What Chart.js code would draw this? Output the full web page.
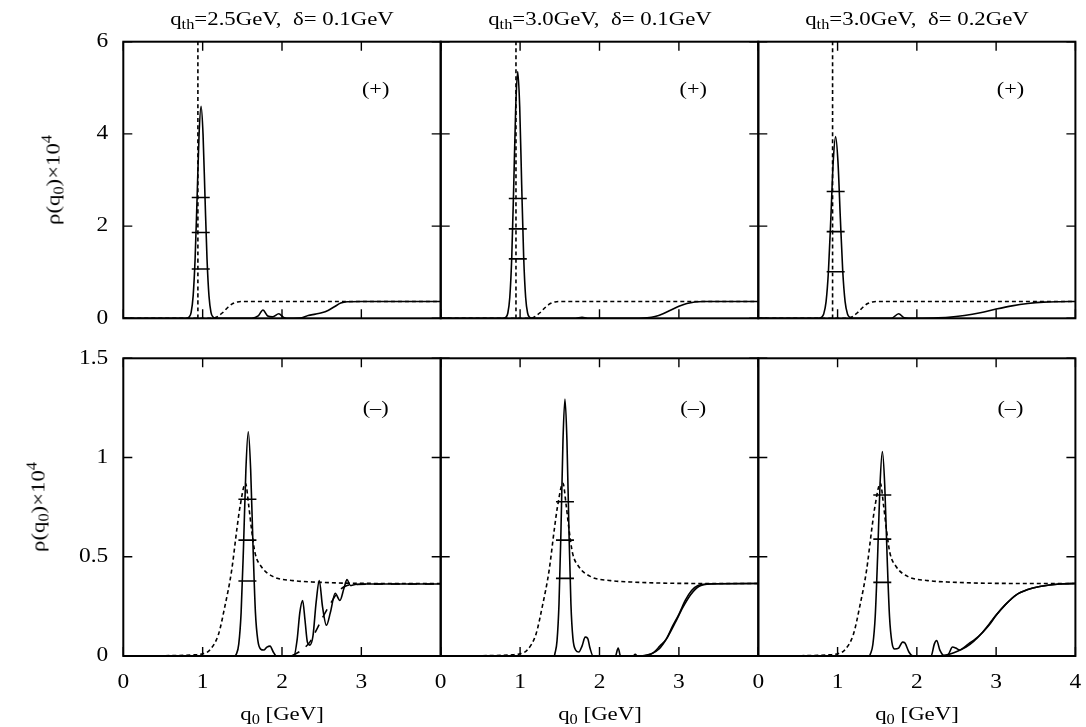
<!DOCTYPE html>
<html>
<head>
<meta charset="utf-8">
<script src="https://cdn.jsdelivr.net/npm/chart.js@4/dist/chart.umd.min.js"></script>
<style>
  body { margin:0; background:#fff; }
  #wrap { position:relative; width:1086px; height:727px; overflow:hidden; }
  #wrap canvas { position:absolute; left:0; top:0; }
  .lbl { position:absolute; font-family:"Liberation Serif","Times New Roman",serif; font-size:19px;
         color:#000; white-space:nowrap; line-height:1; transform-origin:center center; }
  .lbl sub { font-size:0.72em; vertical-align:-0.3em; line-height:0; }
  .lbl sup { font-size:0.72em; vertical-align:0.55em; line-height:0; }
</style>
</head>
<body>
<div id="wrap"></div>
<script>
// axes
var xTicks = [0, 1, 2, 3, 4];
var plusYTicks = [0, 2, 4, 6];
var minusYTicks = [0, 0.5, 1, 1.5];
var titles = ['q<sub>th</sub>=2.5GeV,&nbsp; &delta;= 0.1GeV', 'q<sub>th</sub>=3.0GeV,&nbsp; &delta;= 0.1GeV', 'q<sub>th</sub>=3.0GeV,&nbsp; &delta;= 0.2GeV'];

// (+) channel, dashed reference: pole position and continuum
var plusPoleQ = [0.94, 0.948, 0.937];
var plusDashed = [[0,0],[1.12,0],[1.18,0.03],[1.25,0.12],[1.32,0.24],[1.38,0.32],[1.44,0.355],[1.52,0.365],[4,0.365]];

// (+) channel, solid curves
var plusA = [[0,0],[0.79,0],[0.83,0.03],[0.855,0.13],[0.88,0.48],[0.905,1.29],[0.93,2.61],[0.955,3.99],[0.98,4.6],[1.005,3.99],[1.03,2.61],[1.055,1.29],[1.08,0.48],[1.105,0.13],[1.13,0.03],[1.17,0],
  [1.62,0],[1.7,0.05],[1.76,0.18],[1.82,0.05],[1.88,0.03],[1.96,0.1],[2.02,0.02],[2.1,0],[2.25,0.01],[2.33,0.06],[2.42,0.09],[2.5,0.12],[2.58,0.17],[2.66,0.25],[2.74,0.33],[2.82,0.36],[3,0.365],[4,0.365]];
var plusB = [[0,0],[0.78,0],[0.82,0.02],[0.845,0.11],[0.87,0.45],[0.895,1.33],[0.92,2.89],[0.945,4.59],[0.97,5.35],[0.995,4.59],[1.02,2.89],[1.045,1.33],[1.07,0.45],[1.095,0.11],[1.12,0.02],[1.16,0],
  [1.7,0],[1.78,0.02],[1.85,0],[2.5,0],[2.6,0.01],[2.7,0.04],[2.8,0.1],[2.9,0.18],[3.0,0.26],[3.1,0.32],[3.2,0.355],[3.3,0.365],[4,0.365]];
var plusC = [[0,0],[0.76,0],[0.795,0.02],[0.825,0.095],[0.855,0.36],[0.885,1.03],[0.915,2.17],[0.945,3.39],[0.975,3.94],[1.005,3.39],[1.035,2.17],[1.065,1.03],[1.095,0.36],[1.125,0.095],[1.155,0.02],[1.2,0],
  [1.68,0],[1.77,0.1],[1.84,0.01],[1.9,0],[2.2,0.005],[2.4,0.02],[2.6,0.06],[2.8,0.12],[3.0,0.2],[3.2,0.27],[3.4,0.32],[3.6,0.35],[3.8,0.36],[4,0.365]];

// (+) channel, peak markers
var plusMarkQ = [0.976, 0.971, 0.976];
var plusMarkA = [2.62, 1.86, 1.07];
var plusMarkB = [2.6, 1.94, 1.29];
var plusMarkC = [2.75, 1.88, 1.01];

// (-) channel, dashed reference
var minusDashed = [[0,0],[0.6,0.002],[0.9,0.006],[1.01,0.012],[1.09,0.03],[1.2,0.11],[1.28,0.25],[1.365,0.43],[1.43,0.635],[1.47,0.75],[1.54,0.87],[1.58,0.76],[1.617,0.635],[1.66,0.52],[1.74,0.45],[1.89,0.4],[2.14,0.38],[2.44,0.372],[3,0.366],[4,0.365]];

// (-) channel, solid curves
var minusD = [[0,0],[1.4,0],[1.425,0.01],[1.455,0.06],[1.485,0.22],[1.515,0.55],[1.545,0.94],[1.575,1.13],[1.605,0.94],[1.635,0.55],[1.665,0.22],[1.695,0.08],[1.73,0.035],[1.77,0.03],[1.81,0.045],[1.85,0.05],[1.89,0.02],[1.93,0],
  [2.15,0],[2.19,0.08],[2.225,0.22],[2.26,0.28],[2.29,0.18],[2.32,0.07],[2.35,0.055],[2.39,0.1],[2.43,0.27],[2.47,0.38],[2.51,0.25],[2.56,0.155],[2.61,0.22],[2.67,0.316],[2.73,0.28],[2.78,0.34],[2.82,0.385],[2.86,0.355],[2.92,0.36],[3.0,0.363],[4,0.363]];
var minusDsmooth = [[2.12,0],[2.25,0.03],[2.35,0.07],[2.42,0.12],[2.52,0.2],[2.62,0.27],[2.72,0.33],[2.82,0.355],[2.92,0.36],[3.1,0.362],[4,0.363]];
var minusE = [[0,0],[1.43,0],[1.44,0.015],[1.465,0.076],[1.49,0.263],[1.515,0.637],[1.54,1.085],[1.565,1.295],[1.59,1.085],[1.615,0.637],[1.64,0.263],[1.665,0.09],[1.7,0.03],[1.74,0.02],[1.78,0.05],[1.82,0.095],[1.85,0.09],[1.88,0.04],[1.92,0],
  [2.2,0],[2.235,0.04],[2.265,0],[2.42,0],[2.45,0.008],[2.48,0],[2.6,0.005],[2.68,0.017],[2.76,0.05],[2.84,0.085],[2.92,0.15],[3.0,0.21],[3.08,0.28],[3.16,0.33],[3.24,0.355],[3.35,0.363],[4,0.365]];
var minusEsmooth = [[2.55,0],[2.65,0.01],[2.75,0.035],[2.85,0.09],[2.95,0.165],[3.05,0.245],[3.15,0.31],[3.25,0.35],[3.4,0.363],[4,0.365]];
var minusF = [[0,0],[1.4,0],[1.415,0.011],[1.445,0.058],[1.475,0.2],[1.505,0.5],[1.535,0.86],[1.565,1.03],[1.595,0.86],[1.625,0.5],[1.655,0.2],[1.685,0.07],[1.72,0.035],[1.77,0.04],[1.82,0.07],[1.85,0.065],[1.9,0.02],[1.95,0],
  [2.18,0],[2.22,0.06],[2.25,0.078],[2.29,0.03],[2.35,0],[2.4,0.01],[2.45,0.045],[2.49,0.04],[2.54,0.03],[2.6,0.045],[2.66,0.064],[2.72,0.08],[2.83,0.12],[2.92,0.165],[3.0,0.206],[3.12,0.26],[3.25,0.307],[3.4,0.335],[3.55,0.35],[3.8,0.363],[4,0.365]];
var minusFsmooth = [[2.3,0],[2.42,0.01],[2.52,0.025],[2.62,0.045],[2.72,0.075],[2.82,0.115],[2.92,0.16],[3.0,0.205],[3.12,0.26],[3.25,0.307],[3.4,0.335],[3.55,0.35],[3.8,0.363],[4,0.365]];

// (-) channel, peak markers
var minusMarkQ = [1.564, 1.565, 1.564];
var minusMarkD = [0.79, 0.584, 0.378];
var minusMarkE = [0.777, 0.584, 0.391];
var minusMarkF = [0.811, 0.589, 0.371];

// panel frames (pixels)
var colL = [123.3, 440.7, 758.3], colR = [440.7, 758.3, 1076];
var rowT = [41.7, 358.3], rowB = [318.3, 656];

var FONT = '"Liberation Serif","Times New Roman",serif';

function pts(a){ return a.map(function(p){ return {x:p[0], y:p[1]}; }); }
function curve(a, dash){
  return { data: pts(a), showLine:true, borderColor:'#000', borderWidth:1.6, borderDash: dash||[],
           pointRadius:0, cubicInterpolationMode:'monotone', fill:false };
}
function marks(q, ys){
  return { data: ys.map(function(y){ return {x:q, y:y}; }), showLine:false, pointStyle:'line',
           pointRadius:9, pointBorderColor:'#000', pointBorderWidth:1.6, pointBackgroundColor:'#000' };
}

var framePlugin = {
  id:'frame',
  afterDatasetsDraw: function(chart, args, o){
    var ctx = chart.ctx, a = chart.chartArea, xs = chart.scales.x, ys = chart.scales.y;
    ctx.save();
    ctx.strokeStyle = '#000'; ctx.lineWidth = 1.4;
    ctx.beginPath();
    xs.ticks.forEach(function(t){
      var px = xs.getPixelForValue(t.value);
      ctx.moveTo(px, a.bottom); ctx.lineTo(px, a.bottom - 9);
      ctx.moveTo(px, a.top); ctx.lineTo(px, a.top + 9);
    });
    ys.ticks.forEach(function(t){
      var py = ys.getPixelForValue(t.value);
      ctx.moveTo(a.left, py); ctx.lineTo(a.left + 9, py);
      ctx.moveTo(a.right, py); ctx.lineTo(a.right - 9, py);
    });
    ctx.stroke();
    ctx.lineWidth = 2;
    ctx.strokeRect(a.left, a.top, a.right - a.left, a.bottom - a.top);
    // tick labels, stretched like the original lettering
    ctx.fillStyle = '#000';
    ctx.font = '20px ' + FONT;
    if (o.xLabels) {
      ctx.textAlign = 'center'; ctx.textBaseline = 'alphabetic';
      xs.ticks.forEach(function(t){
        if (!t.label) return;
        ctx.save(); ctx.translate(xs.getPixelForValue(t.value), a.bottom + 32); ctx.scale(1.17, 1);
        ctx.fillText(t.label, 0, 0); ctx.restore();
      });
    }
    if (o.yLabels) {
      ctx.textAlign = 'right'; ctx.textBaseline = 'middle';
      ys.ticks.forEach(function(t){
        ctx.save(); ctx.translate(a.left - 15, ys.getPixelForValue(t.value)); ctx.scale(1.17, 1);
        ctx.fillText(t.label, 0, 0); ctx.restore();
      });
    }
    // channel tag
    ctx.font = '19px ' + FONT; ctx.textAlign = 'center'; ctx.textBaseline = 'middle';
    ctx.save(); ctx.translate(xs.getPixelForValue(o.tagX), ys.getPixelForValue(o.tagY)); ctx.scale(1.17, 1);
    ctx.fillText(o.tag, 0, 0); ctx.restore();
    ctx.restore();
  }
};

var panels = [
  { row:0, col:0, sets:[curve(plusDashed,[4,3]), curve([[plusPoleQ[0],0],[plusPoleQ[0],6]],[4,3]), curve(plusA), marks(plusMarkQ[0], plusMarkA)] },
  { row:0, col:1, sets:[curve(plusDashed,[4,3]), curve([[plusPoleQ[1],0],[plusPoleQ[1],6]],[4,3]), curve(plusB), marks(plusMarkQ[1], plusMarkB)] },
  { row:0, col:2, sets:[curve(plusDashed,[4,3]), curve([[plusPoleQ[2],0],[plusPoleQ[2],6]],[4,3]), curve(plusC), marks(plusMarkQ[2], plusMarkC)] },
  { row:1, col:0, sets:[curve(minusDashed,[4,3]), curve(minusDsmooth,[9,8]), curve(minusD), marks(minusMarkQ[0], minusMarkD)] },
  { row:1, col:1, sets:[curve(minusDashed,[4,3]), curve(minusEsmooth), curve(minusE), marks(minusMarkQ[1], minusMarkE)] },
  { row:1, col:2, sets:[curve(minusDashed,[4,3]), curve(minusFsmooth), curve(minusF), marks(minusMarkQ[2], minusMarkF)] }
];

var wrap = document.getElementById('wrap');
panels.forEach(function(p){
  var cv = document.createElement('canvas');
  cv.width = 1086; cv.height = 727;
  wrap.appendChild(cv);
  var yT = p.row === 0 ? plusYTicks : minusYTicks;
  new Chart(cv, {
    type:'scatter',
    data:{ datasets:p.sets },
    plugins:[framePlugin],
    options:{
      responsive:false, animation:false, devicePixelRatio:1, events:[],
      layout:{ padding:{ left:colL[p.col], right:1086 - colR[p.col], top:rowT[p.row], bottom:727 - rowB[p.row] } },
      plugins:{
        legend:{display:false}, tooltip:{enabled:false},
        frame:{ xLabels:p.row === 1, yLabels:p.col === 0, tag:p.row === 0 ? '(+)' : '(\u2013)', tagX:3.18, tagY:p.row === 0 ? 4.95 : 1.244 }
      },
      scales:{
        x:{ type:'linear', min:0, max:4,
            afterFit:function(s){ s.height = 0; },
            afterBuildTicks:function(s){ s.ticks = xTicks.map(function(v){ return {value:v}; }); },
            grid:{display:false, drawTicks:false}, border:{display:false},
            ticks:{display:false, autoSkip:false,
                   callback:function(v){ return (p.col < 2 && v === 4) ? '' : String(v); } } },
        y:{ type:'linear', min:0, max:yT[yT.length - 1],
            afterFit:function(s){ s.width = 0; },
            afterBuildTicks:function(s){ s.ticks = yT.map(function(v){ return {value:v}; }); },
            grid:{display:false, drawTicks:false}, border:{display:false},
            ticks:{display:false, autoSkip:false, callback:function(v){ return String(v); } } }
      }
    }
  });
});

// titles and axis titles
function addLabel(html, css){
  var d = document.createElement('div');
  d.className = 'lbl'; d.innerHTML = html;
  for (var k in css) d.style[k] = css[k];
  wrap.appendChild(d);
}
[0,1,2].forEach(function(c){
  var cx = (colL[c] + colR[c]) / 2;
  addLabel(titles[c], { left:cx + 'px', top:'9px', transform:'translateX(-50%) scaleX(1.2)' });
  addLabel('q<sub>0</sub> [GeV]', { left:cx + 'px', top:'704px', transform:'translateX(-50%) scaleX(1.2)' });
});
var yTitle = '&rho;(q<sub>0</sub>)&times;10<sup>4</sup>';
addLabel(yTitle, { left:'53px', top:'180px', transform:'translate(-50%,-50%) rotate(-90deg) scaleX(1.2)' });
addLabel(yTitle, { left:'38px', top:'507px', transform:'translate(-50%,-50%) rotate(-90deg) scaleX(1.2)' });
</script>
</body>
</html>
